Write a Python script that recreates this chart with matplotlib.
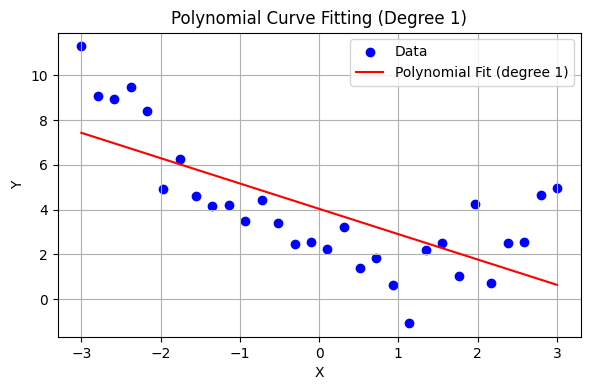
import matplotlib
matplotlib.use("Agg")
import matplotlib.pyplot as plt
import numpy as np

x_vals = [-3.0, -2.793, -2.586, -2.379, -2.172, -1.966, -1.759, -1.552, -1.345, -1.138,
          -0.931, -0.724, -0.517, -0.310, -0.103, 0.103, 0.310, 0.517, 0.724, 0.931,
          1.138, 1.345, 1.552, 1.759, 1.966, 2.172, 2.379, 2.586, 2.793, 3.0]
y_vals = [11.29, 9.06, 8.93, 9.46, 8.39, 4.91, 6.25, 4.60, 4.15, 4.20,
          3.48, 4.42, 3.39, 2.46, 2.54, 2.23, 3.21, 1.38, 1.83, 0.63,
          -1.07, 2.19, 2.50, 1.03, 4.24, 0.71, 2.50, 2.54, 4.64, 4.96]
degree = 1

x = np.array(x_vals)
y = np.array(y_vals)
coef = np.polyfit(x, y, degree)
xf = np.linspace(x.min(), x.max(), 100)
yf = np.polyval(coef, xf)

fig, ax = plt.subplots(figsize=(5.9, 3.9), dpi=100)
ax.scatter(x, y, color="blue", label="Data")
ax.plot(xf, yf, color="red", label=f"Polynomial Fit (degree {degree})")
ax.set_title(f"Polynomial Curve Fitting (Degree {degree})")
ax.set_xlabel("X")
ax.set_ylabel("Y")
ax.legend()
ax.grid(True)
fig.subplots_adjust(left=57.5 / 590, right=580.7 / 590,
                    bottom=1 - 337 / 390, top=1 - 32.5 / 390)
fig.savefig("out.png")
